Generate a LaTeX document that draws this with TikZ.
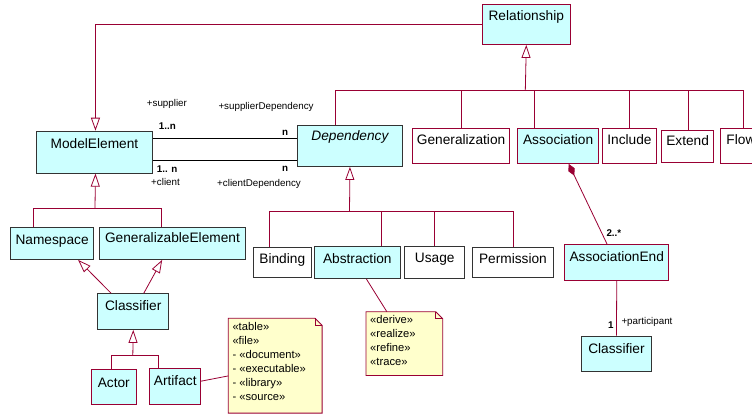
\documentclass[tikz,border=0pt]{standalone}
\usepackage{fontspec}
\setmainfont{Liberation Sans}
\usetikzlibrary{arrows.meta}

\definecolor{umlred}{RGB}{153,0,51}
\definecolor{umlcyan}{RGB}{204,255,255}
\definecolor{umldark}{RGB}{51,51,51}
\definecolor{umlnote}{RGB}{255,255,204}

\pgfdeclarelayer{background}
\pgfsetlayers{background,main}

\tikzset{
  cls/.style={anchor=north west, inner sep=0pt, text height=16.5pt, line width=0.9pt, font=\fontsize{13.7}{16}\selectfont},
  redbox/.style={cls, draw=umlred, fill=umlcyan},
  redwhite/.style={cls, draw=umlred, fill=white},
  darkbox/.style={cls, draw=umldark, fill=umlcyan},
  darkwhite/.style={cls, draw=umldark, fill=white},
  redline/.style={draw=umlred, line width=0.8pt},
  gen/.style={redline, -{Triangle[open, length=13pt, width=9pt]}},
  lbl/.style={anchor=west, inner sep=0pt, font=\fontsize{9.8}{11}\selectfont},
  mult/.style={lbl, font=\fontsize{9.8}{11}\selectfont\bfseries},
  notebox/.style={anchor=north west, inner xsep=4pt, inner ysep=0pt, font=\fontsize{11.2}{14}\selectfont},
}

\begin{document}
\begin{tikzpicture}[x=1pt,y=-1pt]
\clip (0,0) rectangle (752,415);

% classes
\node[redbox, minimum width=88.3pt, text height=15.7pt, text depth=24pt] (rel) at (481.7,4.3) {Relationship};
\node[darkbox, minimum width=116.6pt, text height=17pt, text depth=25pt] (me) at (35.7,130.7) {ModelElement};
\node[darkbox, minimum width=105.6pt, text height=15pt, text depth=26pt, font=\fontsize{13.7}{16}\selectfont\itshape] (dep) at (296.7,125) {Dependency};
\node[redwhite, minimum width=96.7pt, text depth=18.8pt] (gen) at (412.3,127.7) {Generalization};
\node[redbox, minimum width=81.3pt, text depth=18.8pt] (assoc) at (517,127.7) {Association};
\node[redwhite, minimum width=53.4pt, text depth=18.8pt] (incl) at (602.3,127.7) {Include};
\node[redwhite, minimum width=52.3pt, text height=15pt, text depth=16.7pt] (ext) at (661,130) {Extend};
\node[redwhite, minimum width=41pt, text depth=18.8pt] (flow) at (720,127.7) {Flow};

\node[darkbox, minimum width=83.3pt, text height=17pt, text depth=14.7pt] (ns) at (10,227.3) {Namespace};
\node[darkbox, minimum width=146.6pt, text height=15pt, text depth=16.7pt] (genel) at (98.7,227.3) {GeneralizableElement};
\node[darkbox, minimum width=71pt, text height=16.7pt, text depth=19pt] (cls1) at (97.3,293.3) {Classifier};
\node[redbox, minimum width=44.7pt, text height=17.7pt, text depth=17pt] (actor) at (91,369) {Actor};
\node[redbox, minimum width=51pt, text height=16.7pt, text depth=19.3pt] (artifact) at (149.3,368.3) {Artifact};

\node[darkwhite, minimum width=57.7pt, text height=16.7pt, text depth=13.9pt] (binding) at (253,246.7) {Binding};
\node[darkbox, minimum width=85.7pt, text height=17.3pt, text depth=15pt] (abstr) at (314,246) {Abstraction};
\node[darkwhite, minimum width=60pt, text height=16pt, text depth=16.3pt] (usage) at (404.3,246) {Usage};
\node[darkwhite, minimum width=80.4pt, text height=16pt, text depth=13.7pt] (perm) at (472.3,247.3) {Permission};

\node[redbox, minimum width=104pt, text height=16.7pt, text depth=19.3pt] (aend) at (564.3,244.3) {AssociationEnd};
\node[darkbox, minimum width=70pt, text height=17pt, text depth=18.3pt] (cls2) at (581,335.7) {Classifier};

% notes
\node[notebox, minimum width=93.4pt, text height=12.2pt, text depth=82.2pt] (note1) at (228.3,318.3)
  {\parbox[t]{85.4pt}{\raggedright «table»\\«file»\\- «document»\\- «executable»\\- «library»\\- «source»}};
\node[notebox, minimum width=76.3pt, text height=11.3pt, text depth=52pt] (note2) at (366,311.7)
  {\parbox[t]{68.3pt}{\raggedright «derive»\\«realize»\\«refine»\\«trace»}};
\begin{pgfonlayer}{background}
\foreach \n in {note1,note2} {
  \draw[redline, fill=umlnote] (\n.north west) -- ([xshift=-7pt]\n.north east) -- ([yshift=-7pt]\n.north east) -- (\n.south east) -- (\n.south west) -- cycle;
  \draw[redline] ([xshift=-7pt]\n.north east) |- ([yshift=-7pt]\n.north east);
}
\end{pgfonlayer}

% Relationship hierarchy
\coordinate (relbus) at (525.3,90.7);
\draw[gen] (relbus) -- (rel.south);
\draw[redline] ([xshift=-14.5pt]dep.north) |- (relbus);
\draw[redline] (gen.north) |- (relbus);
\draw[redline] ([xshift=-23.3pt]assoc.north) |- (relbus);
\draw[redline] (incl.north) |- (relbus);
\draw[redline] ([xshift=1.2pt]ext.north) |- (relbus);
\draw[redline] ([xshift=2.5pt]flow.north) |- (relbus);
\draw[gen] (rel.west) -| ([xshift=1pt]me.north);

% ModelElement hierarchy
\coordinate (mebus) at (95,208.3);
\draw[gen] (mebus) -- ([xshift=1pt]me.south);
\draw[redline] ([xshift=-19pt]ns.north) |- (mebus);
\draw[redline] ([xshift=-11.3pt]genel.north) |- (mebus);
\draw[gen] ([xshift=-22.1pt]cls1.north) -- ([xshift=26pt]ns.south);
\draw[gen] ([xshift=10.5pt]cls1.north) -- ([xshift=-10.3pt]genel.south);

% Classifier hierarchy
\coordinate (clsbus) at (132.8,355.7);
\draw[gen] (clsbus) -- (cls1.south);
\draw[redline] ([xshift=-2.6pt]actor.north) |- (clsbus);
\draw[redline] ([xshift=-16.8pt]artifact.north) |- (clsbus);
\draw[redline] ([yshift=5.6pt]artifact.east) -- ([yshift=-10.2pt]note1.west);

% Dependency hierarchy
\coordinate (depbus) at (349.5,211.7);
\draw[gen] (depbus) -- (dep.south);
\draw[redline] ([xshift=-13.1pt]binding.north) |- (depbus);
\draw[redline] ([xshift=23.8pt]abstr.north) |- (depbus);
\draw[redline] (usage.north) |- (depbus);
\draw[redline] ([xshift=0.8pt]perm.north) |- (depbus);
\draw[redline] ([xshift=9.2pt]abstr.south) -- ([xshift=-17.5pt]note2.north);

% supplier / client
\draw[line width=0.8pt] ([yshift=13.4pt]me.east) -- ([yshift=13.4pt]me.east -| dep.west);
\draw[line width=0.8pt] ([yshift=-8.6pt]me.east) -- ([yshift=-8.6pt]me.east -| dep.west);

% Text Node
\node[lbl] (lsup) at (146.7,104.3) {+supplier};
\node[mult] (lsupm) at (158.7,126) {1..n};
\node[mult] (lsupn) at (282,133) {n};
\node[lbl] (lsupdep) at (218.3,107) {+supplierDependency};
\node[mult] (lclim) at (156.7,168.7) {1.. n};
\node[lbl] (lcli) at (151,181.7) {+client};
\node[mult] (lclin) at (282,168.7) {n};
\node[lbl] (lclidep) at (217,184.3) {+clientDependency};

% Association ends
\draw[redline, {Diamond[length=13pt, width=7pt]}-] ([xshift=10.6pt]assoc.south) -- ([xshift=-9.6pt]aend.north);
\draw[redline] (aend.south) -- (cls2.north);
\node[mult] (lend) at (606.3,233.3) {2..*};
\node[mult] (lone) at (608,325) {1};
\node[lbl] (lpart) at (621.3,322.3) {+participant};

\end{tikzpicture}
\end{document}
